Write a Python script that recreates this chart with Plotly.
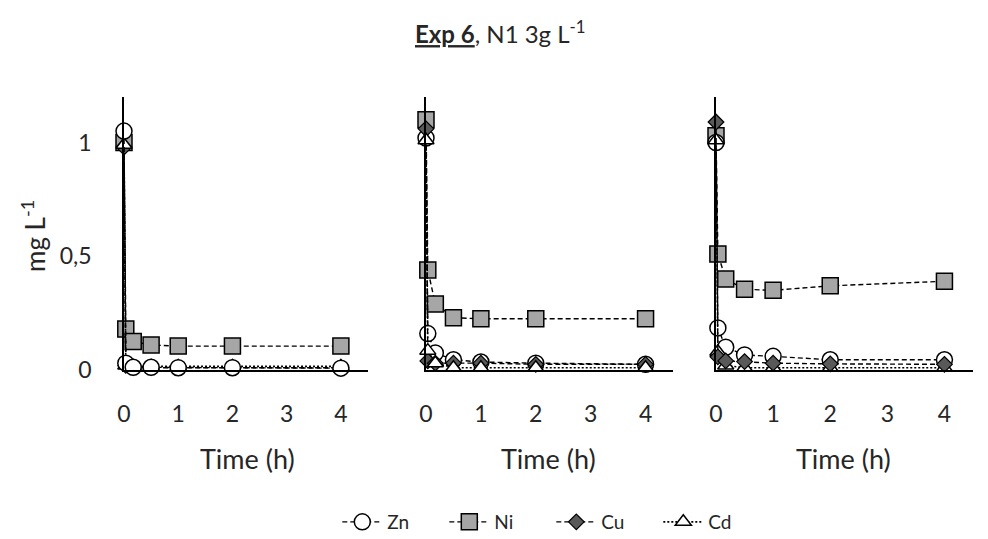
import plotly.graph_objects as go

# ---- data ----
times = [0, 0.033, 0.17, 0.5, 1, 2, 4]
x_ticks = [0, 1, 2, 3, 4]
x_tick_labels = ["0", "1", "2", "3", "4"]
y_ticks = [0, 0.5, 1]
y_tick_labels = ["0", "0,5", "1"]

zn_p1 = [1.05, 0.03, 0.012, 0.012, 0.01, 0.01, 0.008]
ni_p1 = [1.00, 0.18, 0.125, 0.11, 0.105, 0.105, 0.105]
cu_p1 = [0.98, 0.02, 0.01, 0.01, 0.01, 0.01, 0.01]
cd_p1 = [0.99, 0.02, 0.016, 0.016, 0.016, 0.016, 0.016]

zn_p2 = [1.02, 0.16, 0.075, 0.045, 0.035, 0.03, 0.025]
ni_p2 = [1.10, 0.44, 0.29, 0.23, 0.225, 0.225, 0.225]
cu_p2 = [1.06, 0.04, 0.03, 0.03, 0.03, 0.025, 0.025]
cd_p2 = [1.01, 0.085, 0.03, 0.01, 0.01, 0.01, 0.01]

zn_p3 = [1.00, 0.185, 0.10, 0.066, 0.06, 0.045, 0.045]
ni_p3 = [1.03, 0.51, 0.40, 0.355, 0.35, 0.37, 0.39]
cu_p3 = [1.09, 0.058, 0.04, 0.037, 0.03, 0.027, 0.025]
cd_p3 = [1.01, 0.08, 0.02, 0.01, 0.01, 0.01, 0.01]

FONT = "Lato"
W, H = 988, 539

styles = {
    "Zn": dict(line=dict(color="black", width=1.4, dash="5px,3px"),
               marker=dict(symbol="circle", size=16, color="white",
                           line=dict(color="black", width=1.5))),
    "Ni": dict(line=dict(color="black", width=1.4, dash="5px,3px"),
               marker=dict(symbol="square", size=16, color="#a6a6a6",
                           line=dict(color="black", width=1.5))),
    "Cu": dict(line=dict(color="black", width=1.4, dash="5px,3px"),
               marker=dict(symbol="diamond", size=12, color="#595959",
                           line=dict(color="black", width=1.2))),
    "Cd": dict(line=dict(color="black", width=1.6, dash="2px,2px"),
               marker=dict(symbol="triangle-up", size=14, color="white",
                           line=dict(color="black", width=1.5))),
}
rank = {"Zn": 1, "Ni": 2, "Cu": 3, "Cd": 4}

panels = [
    ("x", "y", {"Ni": ni_p1, "Cu": cu_p1, "Cd": cd_p1, "Zn": zn_p1}, True),
    ("x2", "y2", {"Ni": ni_p2, "Zn": zn_p2, "Cu": cu_p2, "Cd": cd_p2}, False),
    ("x3", "y3", {"Ni": ni_p3, "Zn": zn_p3, "Cd": cd_p3, "Cu": cu_p3}, False),
]

fig = go.Figure()
for xa, ya, series, show in panels:
    for name, vals in series.items():
        fig.add_trace(go.Scatter(
            x=times, y=vals, name=name, mode="lines+markers",
            xaxis=xa, yaxis=ya, showlegend=show, legendrank=rank[name],
            cliponaxis=False, **styles[name]))

def px_x(p):
    return p / W

def px_y(p):
    return 1 - p / H

ydom = [px_y(370), px_y(97)]
xdoms = [[px_x(124), px_x(368)], [px_x(426), px_x(673)], [px_x(716), px_x(973)]]

axis_common = dict(showline=True, linecolor="black", linewidth=1.5,
                   showgrid=False, zeroline=False, ticks="", automargin=False,
                   tickfont=dict(family=FONT, size=23, color="#262626"))

layout = dict(
    width=W, height=H,
    margin=dict(l=0, r=0, t=0, b=0, pad=0, autoexpand=False),
    paper_bgcolor="white", plot_bgcolor="white",
    font=dict(family=FONT, color="#262626"),
    showlegend=True,
    legend=dict(orientation="h", x=0.558, xanchor="center", y=px_y(522),
                yanchor="middle", font=dict(family=FONT, size=19, color="#262626"),
                itemwidth=40, entrywidth=52, entrywidthmode="pixels",
                traceorder="normal"),
)
for i, (xd) in enumerate(xdoms):
    suffix = "" if i == 0 else str(i + 1)
    layout["xaxis" + suffix] = dict(
        domain=xd, range=[0, 4.5], tickvals=x_ticks, ticktext=x_tick_labels,
        anchor="y" + suffix, ticklabelstandoff=23, **axis_common)
    layout["yaxis" + suffix] = dict(
        domain=ydom, range=[0, 1.2], tickvals=y_ticks, ticktext=y_tick_labels,
        anchor="x" + suffix, showticklabels=(i == 0), ticklabelstandoff=26,
        **axis_common)
fig.update_layout(**layout)

# titles
def note(x, y, text, size, angle=0):
    fig.add_annotation(x=px_x(x), y=px_y(y), xref="paper", yref="paper",
                       xanchor="center", yanchor="middle", text=text,
                       textangle=angle, showarrow=False,
                       font=dict(family=FONT, size=size, color="#262626"))

note(500, 32, "<b><u>Exp 6</u></b>, N1 3g L<sup>-1</sup>", 24)
for cx in [247, 548, 843]:
    note(cx, 458, "Time (h)", 27)
note(33, 236, "mg L<sup>-1</sup>", 26, angle=-90)

fig.write_html("out.html", post_script="document.body.style.margin='0px';",
               config={"displayModeBar": False})
